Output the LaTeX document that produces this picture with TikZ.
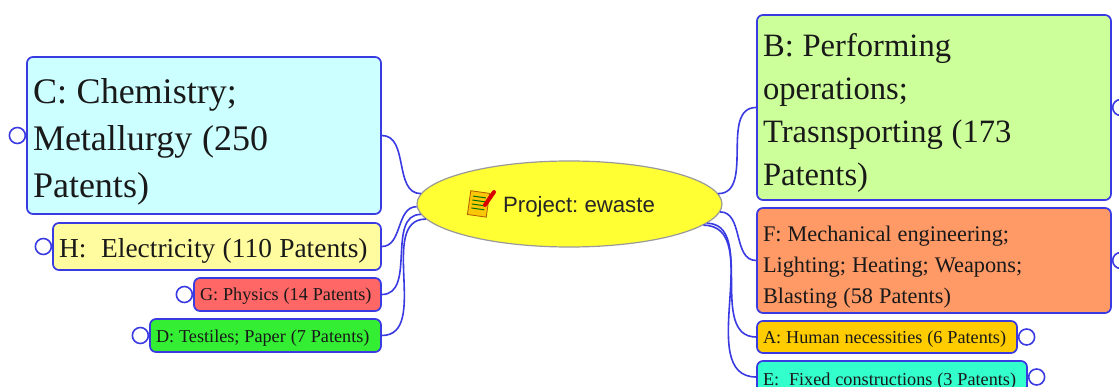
\documentclass[tikz,border=0pt]{standalone}
\usepackage{fontspec}
\setmainfont{Liberation Serif}
\newfontfamily\hubfont{Liberation Sans}
\usetikzlibrary{shapes.geometric}
\frenchspacing

\definecolor{linkblue}{RGB}{58,58,226}
\definecolor{hubyellow}{RGB}{255,255,51}
\definecolor{chemfill}{RGB}{204,255,255}
\definecolor{elecfill}{RGB}{255,252,160}
\definecolor{physfill}{RGB}{255,102,102}
\definecolor{textfill}{RGB}{51,238,51}
\definecolor{operfill}{RGB}{204,255,153}
\definecolor{mechfill}{RGB}{255,153,102}
\definecolor{humfill}{RGB}{255,204,0}
\definecolor{fixfill}{RGB}{51,255,204}

\begin{document}
\begin{tikzpicture}[x=1pt, y=-1pt,
	topic/.style={draw=linkblue, line width=1.7pt, rounded corners=6pt, inner xsep=6pt, inner ysep=0pt, align=left, text=black!90,
		execute at begin node={\spaceskip=0.27em\xspaceskip=0.27em\relax}},
	knob/.style={circle, draw=linkblue, fill=white, line width=1.6pt, minimum size=16pt, inner sep=0pt},
	branch/.style={draw=linkblue, line width=1.6pt}]
	\useasboundingbox (0,0) rectangle (1119,387);

	% central topic
	\node[ellipse, draw=gray!80, line width=1.2pt, fill=hubyellow, minimum width=305pt, minimum height=86pt, inner sep=0pt] (hub) at (569.5,204) {};
	\node[font=\hubfont\fontsize{22.2}{26}\selectfont, text=black!85] (hubtext) at (579,207) {Project: ewaste};
	% note icon
	\begin{scope}[shift={(479,204)}, rotate=-8]
		\draw[fill=yellow!60!orange, draw=orange!70!black, line width=0.8pt] (-10,-12) rectangle (9,12);
		\foreach \ly in {-7,-3,1,5}
			\draw[green!45!black, line width=1pt] (-7,\ly) -- (6,\ly);
	\end{scope}
	\draw[red!85!black, line width=4pt, line cap=round] (485,205) -- (494,192);

	% left topics
	\node[topic, fill=chemfill, text width=342pt, text height=38pt, minimum height=157pt, font=\fontsize{36}{47}\selectfont] (chem) at (204,135.5) {C: Chemistry;\\ Metallurgy (250\\ Patents)};
	\node[topic, fill=elecfill, text width=316pt, text height=27pt, minimum height=47pt, font=\fontsize{27.4}{34}\selectfont] (elec) at (217,246.5) {\mbox{H:\ \ Electricity (110 Patents)}};
	\node[topic, fill=physfill, text width=175pt, text height=16pt, minimum height=33pt, font=\fontsize{18.2}{22}\selectfont] (phys) at (287.5,294.5) {\mbox{G: Physics (14 Patents)}};
	\node[topic, fill=textfill, text width=219pt, text height=17pt, minimum height=33pt, font=\fontsize{18.2}{22}\selectfont] (tex) at (265.5,335.5) {\mbox{D: Testiles; Paper (7 Patents)}};

	% right topics
	\node[topic, fill=operfill, text width=342pt, text height=34pt, minimum height=185pt, font=\fontsize{32.6}{43}\selectfont] (oper) at (934,107.5) {B: Performing\\ operations;\\ Trasnsporting (173\\ Patents)};
	\node[topic, fill=mechfill, text width=342pt, text height=29pt, minimum height=105pt, font=\fontsize{22.3}{31}\selectfont] (mech) at (934,260.5) {F: Mechanical engineering;\\ Lighting; Heating; Weapons;\\ Blasting (58 Patents)};
	\node[topic, fill=humfill, text width=248pt, text height=17pt, minimum height=32pt, font=\fontsize{18.2}{22}\selectfont] (hum) at (887,337) {\mbox{A: Human necessities (6 Patents)}};
	\node[topic, fill=fixfill, text width=258pt, text height=20pt, minimum height=32pt, font=\fontsize{18.2}{22}\selectfont] (fix) at (892,377) {\mbox{E:\ \ Fixed constructions (3 Patents)}};

	% collapse knobs
	\node[knob, anchor=east] (chemknob) at (chem.west) {};
	\node[knob, anchor=east] (elecknob) at (elec.west) {};
	\node[knob, anchor=east] (physknob) at (phys.west) {};
	\node[knob, anchor=east] (texknob) at (tex.west) {};
	\node[knob, anchor=west] (operknob) at (oper.east) {};
	\node[knob, anchor=west] (mechknob) at (mech.east) {};
	\node[knob, anchor=west] (humknob) at (hum.east) {};
	\node[knob, anchor=west] (fixknob) at (fix.east) {};

	% branches
	\path[branch]
	(chem.east) edge[out=0, in=180] (hub.176.6)
	(elec.east) edge[out=0, in=180] (hub.181.9)
	(phys.east) edge[out=0, in=180] (hub.184.6)
	(tex.east)  edge[out=0, in=180] (hub.186.2)
	(hub.4.7)   edge[out=0, in=180] (oper.west)
	(hub.357.7) edge[out=0, in=180] (mech.west)
	(hub.352.3) edge[out=0, in=180] (hum.west)
	(hub.351.3) edge[out=0, in=180] (fix.west)
	;
\end{tikzpicture}
\end{document}
